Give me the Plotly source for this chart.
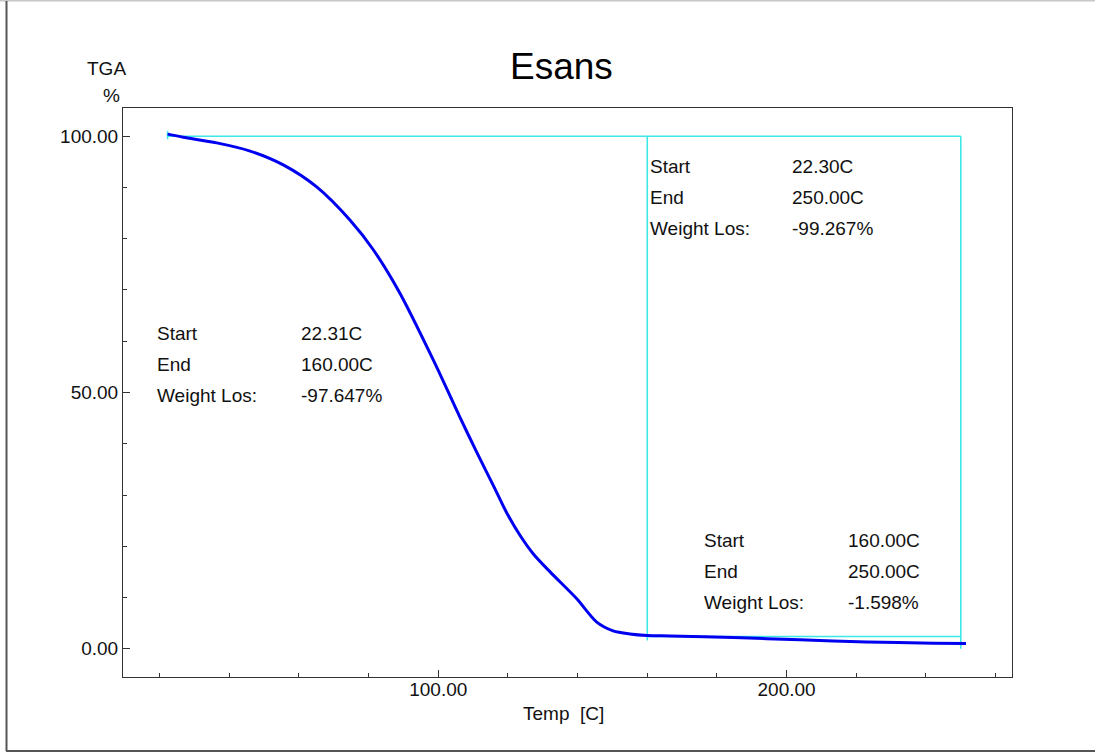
import plotly.graph_objects as go

# ---- data ----
temp = [22.3, 26.8, 36.4, 46.0, 55.5, 65.1, 74.7, 81.4, 88.8, 98.6,
        106.2, 111.0, 116.0, 119.6, 123.5, 127.3, 132.1, 139.7, 145.5, 150.2, 155.0,
        160.0, 166.5, 184.7, 203.8, 223.0, 242.1, 251.5]
tga = [100.4, 99.8, 98.7, 97.1, 94.4, 90.1, 83.6, 77.8, 69.6, 56.3,
       45.2, 38.4, 31.6, 26.6, 22.1, 18.5, 15.0, 9.8, 5.2, 3.5, 2.9,
       2.6, 2.5, 2.2, 1.75, 1.35, 1.1, 1.05]

# analysis step markers (cyan)
step_x = [22.3, 250.0, None, 160.0, 160.0, None, 250.0, 250.0, None, 160.0, 250.0, None, 22.3, 22.3]
step_y = [100.0, 100.0, None, 100.0, 1.6, None, 100.0, 0.0, None, 2.4, 2.4, None, 101.0, 99.4]

x_range = [9.5, 264.7]
y_range = [-5.5, 105.5]

boxes = [
    (["Start", "End", "Weight Los:"], ["22.30C", "250.00C", "-99.267%"]),
    (["Start", "End", "Weight Los:"], ["22.31C", "160.00C", "-97.647%"]),
    (["Start", "End", "Weight Los:"], ["160.00C", "250.00C", "-1.598%"]),
]
# pixel anchors of each annotation block: label x, value x, first-line y
box_pos = [(648, 790, 166), (155, 299, 333), (702, 846, 540)]
line_gap = 31

FONT = "Liberation Sans, Arial, sans-serif"
W, H = 1095, 753
L, R, T, B = 123, 1012, 108, 677


def px(xp):
    return (xp - L) / (R - L)


def py(yp):
    return (B - yp) / (B - T)


fig = go.Figure()
fig.add_trace(go.Scatter(x=step_x, y=step_y, mode="lines",
                         line=dict(color="#3EE8E8", width=1.6),
                         hoverinfo="skip", showlegend=False))
fig.add_trace(go.Scatter(x=temp, y=tga, mode="lines", line_shape="spline",
                         line=dict(color="#0000F0", width=3, smoothing=0.8),
                         showlegend=False))

ann = []
for (labels, values), (lx, vx, y0) in zip(boxes, box_pos):
    for i, (lab, val) in enumerate(zip(labels, values)):
        yy = y0 + i * line_gap
        ann.append(dict(x=px(lx), y=py(yy), xref="paper", yref="paper", text=lab,
                        showarrow=False, xanchor="left", yanchor="middle",
                        font=dict(family=FONT, size=19, color="#111")))
        ann.append(dict(x=px(vx), y=py(yy), xref="paper", yref="paper", text=val,
                        showarrow=False, xanchor="left", yanchor="middle",
                        font=dict(family=FONT, size=19, color="#111")))

ann.append(dict(x=px(561), y=py(66), xref="paper", yref="paper", text="Esans",
                showarrow=False, xanchor="center", yanchor="middle",
                font=dict(family=FONT, size=37, color="#000")))
ann.append(dict(x=px(106), y=py(69), xref="paper", yref="paper", text="TGA",
                showarrow=False, xanchor="center", yanchor="middle",
                font=dict(family=FONT, size=19, color="#111")))
ann.append(dict(x=px(111), y=py(96), xref="paper", yref="paper", text="%",
                showarrow=False, xanchor="center", yanchor="middle",
                font=dict(family=FONT, size=19, color="#111")))
ann.append(dict(x=px(563), y=py(713), xref="paper", yref="paper", text="Temp  [C]",
                showarrow=False, xanchor="center", yanchor="middle",
                font=dict(family=FONT, size=19, color="#111")))

shapes = [
    dict(type="line", xref="paper", yref="paper", x0=px(0), x1=px(1095), y0=py(0.75), y1=py(0.75),
         line=dict(color="#c8c8c8", width=1.5)),
    dict(type="line", xref="paper", yref="paper", x0=px(6.5), x1=px(6.5), y0=py(1), y1=py(751),
         line=dict(color="#555555", width=2)),
    dict(type="line", xref="paper", yref="paper", x0=px(6), x1=px(1095), y0=py(751), y1=py(751),
         line=dict(color="#555555", width=2)),
]

axis_common = dict(showline=True, linecolor="#333", linewidth=1, mirror=True,
                   showgrid=False, zeroline=False, ticks="inside", ticklen=7,
                   tickcolor="#333", tickwidth=1, tickformat=".2f",
                   tickfont=dict(family=FONT, size=19, color="#111"))

fig.update_layout(
    width=W, height=H,
    margin=dict(l=L, r=W - R, t=T, b=H - B),
    paper_bgcolor="white", plot_bgcolor="white",
    xaxis=dict(range=x_range, tick0=0, dtick=100, ticklabelstandoff=-5,
               minor=dict(tick0=0, dtick=20, ticks="inside", ticklen=4, tickcolor="#333"),
               **axis_common),
    yaxis=dict(range=y_range, tick0=0, dtick=50,
               minor=dict(tick0=0, dtick=10, ticks="inside", ticklen=4, tickcolor="#333"),
               **axis_common),
    annotations=ann, shapes=shapes,
)

fig.write_html("out.html", config={"displayModeBar": False},
               post_script="document.body.style.margin='0';document.body.style.overflow='hidden';")
